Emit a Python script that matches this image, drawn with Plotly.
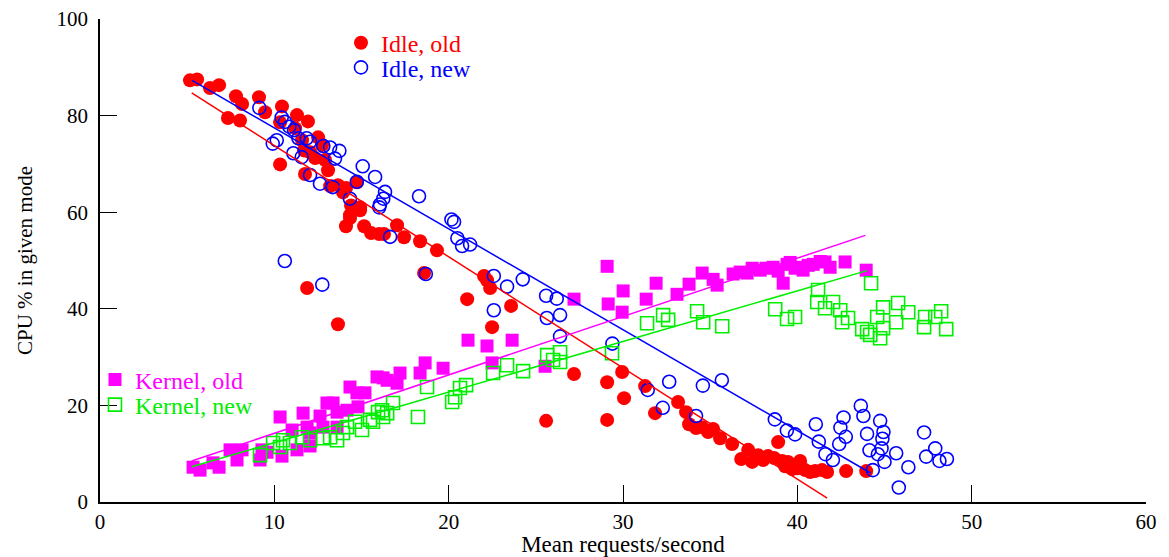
import plotly.graph_objects as go

# ---------------- data ----------------
idle_old_x = [5.16, 5.57, 6.31, 6.83, 7.34, 7.80, 8.03, 8.15, 9.12, 9.47, 10.33, 10.44, 10.33, 11.30, 11.19,
              11.59, 11.76, 11.93, 11.70, 12.05, 12.34, 12.51, 12.74, 12.91, 13.08, 13.20, 13.65, 13.94, 14.11,
              14.34, 14.74, 14.92, 15.15, 15.55, 16.01, 16.29, 17.04, 17.44, 18.36, 18.59, 19.33, 14.11, 14.34,
              14.40, 14.92, 11.88, 13.65, 21.06, 22.03, 22.20, 22.38, 22.49, 23.58, 25.59, 27.19, 29.09, 29.09,
              29.95, 30.06, 31.27, 31.84, 33.16, 33.62, 33.79, 34.19, 34.54, 34.88, 35.17, 35.57, 36.26, 36.78,
              37.18, 37.41, 37.75, 38.04, 38.32, 38.67, 38.90, 39.13, 39.30, 39.47, 39.70, 39.99, 40.16, 40.45,
              40.73, 41.02, 41.42, 41.71, 42.80, 43.95]
idle_old_y = [87.3, 87.5, 85.7, 86.3, 79.5, 84.0, 79.0, 82.4, 83.8, 80.7, 78.6, 81.9, 69.9, 80.1, 77.4,
              74.9, 67.9, 78.8, 72.8, 72.4, 71.2, 75.5, 73.9, 70.8, 68.7, 65.4, 65.6, 64.1, 65.0,
              58.8, 66.2, 61.0, 57.1, 55.7, 55.5, 55.5, 57.3, 54.8, 54.0, 47.4, 52.1, 57.1, 59.4,
              61.4, 60.4, 44.3, 36.8, 42.0, 46.8, 45.9, 44.3, 36.2, 40.6, 16.8, 26.5, 24.8, 17.0,
              26.9, 21.5, 24.0, 18.4, 20.7, 18.6, 16.1, 15.3, 15.5, 14.5, 15.1, 13.2, 12.0, 8.9,
              10.8, 8.3, 9.7, 8.7, 9.5, 9.1, 12.4, 8.5, 7.4, 8.3, 6.8, 7.0, 8.5, 6.6,
              6.2, 6.4, 6.6, 6.2, 6.4, 6.4]

idle_new_x = [9.14, 10.42, 10.61, 10.86, 11.13, 10.14, 9.91, 11.38, 11.86, 12.05, 12.81, 13.20, 13.73, 13.48,
              11.09, 11.57, 12.05, 12.62, 14.34, 15.07, 15.78, 16.06, 16.35, 16.64, 13.35, 14.73, 16.25, 16.02,
              18.30, 20.16, 20.31, 20.50, 21.23, 20.77, 10.60, 12.75, 18.69, 22.59, 24.25, 23.35, 25.59, 26.20,
              22.59, 25.63, 26.39, 26.39, 29.39, 32.65, 31.42, 32.28, 34.58, 35.67, 34.19,
              38.71, 39.40, 39.87, 41.06, 41.23, 41.61, 42.04, 42.40, 42.65, 42.47, 42.78, 43.64, 43.79, 44.00,
              44.14, 44.75, 44.94, 44.88, 44.83, 44.62, 45.00, 45.67, 46.37, 45.82, 44.33, 47.27, 47.91, 47.39,
              48.15, 48.58]
idle_new_y = [81.6, 79.6, 78.7, 77.7, 77.0, 74.9, 74.2, 75.3, 75.3, 74.6, 73.7, 73.4, 72.7, 71.1,
              72.2, 71.4, 67.7, 65.9, 62.8, 69.5, 67.3, 61.6, 64.2, 54.9, 65.2, 66.3, 62.8, 61.0,
              63.3, 58.5, 58.0, 54.6, 53.3, 53.0, 49.9, 45.0, 47.2, 46.8, 46.1, 44.6, 42.7, 42.1,
              39.7, 38.1, 38.7, 34.3, 32.8, 24.9, 23.2, 19.5, 24.1, 25.2, 17.8,
              17.1, 14.8, 14.0, 16.1, 12.5, 9.9, 8.7, 12.0, 17.5, 15.4, 13.5, 19.9, 17.8, 14.1,
              10.7, 16.8, 14.5, 13.1, 11.1, 9.9, 8.3, 10.1, 7.2, 3.0, 6.6, 14.4, 11.1, 9.4,
              8.5, 8.9]

kernel_old_x = [5.34, 5.74, 6.48, 6.83, 7.46, 7.86, 8.15, 9.18, 9.29, 9.58, 10.33, 10.44, 11.02, 11.30, 11.65,
                11.88, 12.05, 12.05, 12.62, 12.79, 13.02, 13.37, 13.60, 13.60, 14.17, 14.34, 14.74, 14.80,
                15.20, 15.89, 16.24, 16.47, 17.04, 17.21, 18.36, 18.65, 19.68, 21.11, 22.20, 22.49, 23.64,
                25.53, 27.19, 29.09, 29.15, 29.95, 30.01, 31.33, 31.90, 33.10, 33.79, 34.54, 35.17, 35.40,
                36.32, 36.72, 37.12, 37.41, 37.87, 38.21, 38.61, 38.90, 39.19, 39.41, 39.59, 39.87, 40.16,
                40.33, 40.62, 40.91, 41.31, 41.59, 41.88, 42.74, 43.95]
kernel_old_y = [7.2, 6.6, 8.1, 7.2, 10.8, 8.7, 10.8, 8.7, 10.8, 10.3, 17.6, 9.5, 14.9, 10.8, 18.4,
                15.5, 14.3, 11.6, 17.8, 15.5, 20.5, 20.5, 15.5, 18.6, 19.0, 23.8, 22.6, 19.7,
                22.6, 25.9, 25.7, 25.2, 24.6, 26.7, 26.7, 28.8, 27.7, 33.5, 32.3, 28.8, 33.5,
                28.1, 42.0, 48.8, 41.0, 39.3, 43.7, 42.0, 45.3, 43.0, 45.1, 47.4, 46.1, 44.9,
                47.2, 47.6, 47.4, 48.4, 48.0, 48.4, 48.6, 47.8, 45.3, 49.2, 49.6, 48.4, 48.6,
                48.0, 49.0, 49.2, 49.8, 49.7, 48.6, 49.7, 48.0]

kernel_new_x = [9.18, 9.93, 10.33, 10.50, 10.90, 11.59, 12.05, 12.79, 13.20, 13.60, 13.94, 14.17, 14.63, 15.03,
                15.49, 15.66, 15.95, 16.18, 16.24, 16.47, 16.81, 18.24, 18.76, 20.20, 20.37, 20.65, 21.00,
                22.55, 23.35, 24.27, 25.65, 25.99, 26.39, 26.39, 29.37, 31.38, 32.30, 32.59, 34.25, 34.60,
                35.69, 38.73, 39.41, 39.87, 41.19, 41.14, 41.59, 42.05, 42.46, 42.57, 42.91, 43.72, 44.00,
                44.18, 44.75, 44.92, 44.92, 44.58, 45.78, 45.67, 46.36, 47.33, 47.27, 47.91, 48.25, 48.54,
                44.23]
kernel_new_y = [9.7, 12.2, 11.4, 12.8, 12.2, 13.4, 12.8, 13.2, 13.4, 12.8, 14.3, 15.5, 16.6, 14.9,
                17.0, 16.6, 18.6, 19.0, 17.6, 18.4, 20.5, 17.6, 23.8, 20.7, 21.7, 23.6, 24.2,
                26.7, 28.3, 27.1, 30.4, 29.4, 31.0, 29.0, 30.8, 37.0, 38.7, 37.7, 39.5, 37.2,
                36.4, 39.9, 37.9, 38.3, 43.9, 41.4, 40.1, 41.4, 39.7, 37.2, 38.1, 35.8, 35.2,
                34.6, 33.9, 36.0, 40.3, 38.3, 41.2, 37.2, 39.3, 38.3, 36.2, 38.3, 39.5, 35.8,
                45.3]

# least-squares fit line end points
fit_idle_old_x = [5.26, 41.71]
fit_idle_old_y = [84.7, 0.8]
fit_idle_new_x = [5.28, 44.2]
fit_idle_new_y = [87.3, 6.0]
fit_kernel_old_x = [5.26, 43.9]
fit_kernel_old_y = [8.5, 55.2]
fit_kernel_new_x = [5.26, 44.0]
fit_kernel_new_y = [7.3, 47.9]

series_names = ["Idle, old", "Idle, new", "Kernel, old", "Kernel, new"]

RED = "#ff0000"
BLUE = "#0000ff"
PINK = "#ff00ff"
GREEN = "#00ee00"
FONT = "Liberation Serif, Times New Roman, serif"
LEG_FONT = 24

fig = go.Figure()

fig.add_trace(go.Scatter(
    x=idle_old_x, y=idle_old_y, mode="markers",
    name='<span style="color:#ff0000">%s</span>' % series_names[0],
    marker=dict(symbol="circle", size=14, color=RED, line=dict(width=0)),
    legend="legend"))
fig.add_trace(go.Scatter(
    x=idle_new_x, y=idle_new_y, mode="markers",
    name='<span style="color:#0000ff">%s</span>' % series_names[1],
    marker=dict(symbol="circle-open", size=13, color=BLUE, line=dict(width=1.6, color=BLUE)),
    legend="legend2"))
fig.add_trace(go.Scatter(
    x=kernel_old_x, y=kernel_old_y, mode="markers",
    name='<span style="color:#ff00ff">%s</span>' % series_names[2],
    marker=dict(symbol="square", size=13, color=PINK, line=dict(width=0)),
    legend="legend3"))
fig.add_trace(go.Scatter(
    x=kernel_new_x, y=kernel_new_y, mode="markers",
    name='<span style="color:#00ee00">%s</span>' % series_names[3],
    marker=dict(symbol="square-open", size=13, color=GREEN, line=dict(width=1.6, color=GREEN)),
    legend="legend4"))

for fx, fy, col in [(fit_idle_old_x, fit_idle_old_y, RED),
                    (fit_idle_new_x, fit_idle_new_y, BLUE),
                    (fit_kernel_old_x, fit_kernel_old_y, PINK),
                    (fit_kernel_new_x, fit_kernel_new_y, GREEN)]:
    fig.add_trace(go.Scatter(x=fx, y=fy, mode="lines", line=dict(color=col, width=1.5),
                             showlegend=False, hoverinfo="skip"))

axis_common = dict(
    showline=True, linecolor="black", linewidth=1.5, mirror=False,
    ticks="inside", ticklen=17, tickwidth=1.2, tickcolor="black",
    showgrid=False, zeroline=False, automargin=False,
    tickfont=dict(family=FONT, size=21, color="black"),
)


def leg(x, y):
    return dict(x=x, y=y, xanchor="left", yanchor="middle", bgcolor="rgba(0,0,0,0)",
                font=dict(family=FONT, size=LEG_FONT), itemsizing="trace")


fig.update_layout(
    width=1169, height=557,
    margin=dict(l=100, r=23, t=19, b=55, autoexpand=False),
    paper_bgcolor="white", plot_bgcolor="white",
    font=dict(family=FONT, size=20, color="black"),
    xaxis=dict(range=[0, 60], tickvals=[0, 10, 20, 30, 40, 50, 60],
               title=dict(text="Mean requests/second", font=dict(family=FONT, size=23), standoff=5),
               **axis_common),
    yaxis=dict(range=[0, 100], tickvals=[0, 20, 40, 60, 80, 100], ticklabelstandoff=6,
               title=dict(text="CPU % in given mode", font=dict(family=FONT, size=21), standoff=18),
               **axis_common),
    legend=leg(0.2304, 0.950),
    legend2=leg(0.2304, 0.899),
    legend3=leg(-0.0048, 0.2526),
    legend4=leg(-0.0048, 0.2008),
    showlegend=True,
)

fig.write_html("out.html")
